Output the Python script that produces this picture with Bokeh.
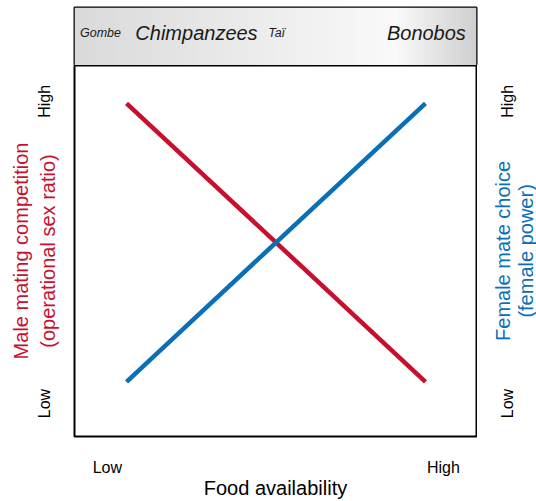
import math
import numpy as np
from bokeh.plotting import figure
from bokeh.layouts import column, row
from bokeh.models import Range1d, FixedTicker, CustomJSTickFormatter, ColumnDataSource
from bokeh.core.properties import value
from bokeh.embed import file_html
from bokeh.resources import INLINE

# ---- data ----
food = [0, 1]                      # Low -> High food availability
male_competition = [1, 0]          # High -> Low
female_choice = [0, 1]             # Low -> High
x_tick_labels = ["Low", "High"]
y_tick_labels = ["Low", "High"]
header_labels = ["Gombe", "Chimpanzees", "Taï", "Bonobos"]
right_title = ["Female mate choice", "(female power)"]

# ---- layout constants ----
RED = "#c8102e"
BLUE = "#0b6fb5"
FONT = "Liberation Sans"
X_TICK_POS = [-0.064, 1.06]
Y_TICK_POS = [-0.078, 1.007]
HEADER_X = [-0.087, 0.234, 0.502, 1.003]
HEADER_SIZES = ["12.5px", "20px", "12.5px", "20px"]
RIGHT_TICK_PX = 507
RIGHT_TITLE_PX = [502, 525]
Y_MID = 0.47

x_range = Range1d(-0.174, 1.1706)
y_range = Range1d(-0.1964, 1.1357)

# ---- header strip ----
header = figure(width=536, height=65, x_range=x_range, y_range=Range1d(0, 1),
                output_backend="svg", toolbar_location=None,
                x_axis_location=None, y_axis_location=None,
                min_border_left=74, min_border_right=60,
                min_border_top=7, min_border_bottom=0)
header.grid.visible = False
header.outline_line_color = "black"
header.outline_line_width = 2

N = 256
t = np.linspace(0, 1, N)
g = np.where(t < 0.8, 218 + (250 - 218) * t / 0.8,
             250 - (250 - 208) * (t - 0.8) / 0.2).astype(np.uint8)
img = np.empty((1, N), dtype=np.uint32)
view = img.view(dtype=np.uint8).reshape((1, N, 4))
view[..., 0] = g
view[..., 1] = g
view[..., 2] = g
view[..., 3] = 255
header.image_rgba(image=[img], x=x_range.start, y=0,
                  dw=x_range.end - x_range.start, dh=1)

hsrc = ColumnDataSource(dict(x=HEADER_X, y=[0.56] * 4, text=header_labels,
                             size=HEADER_SIZES))
header.text(x="x", y="y", text="text", source=hsrc, text_font=value(FONT),
            text_font_size="size", text_font_style="italic",
            text_color="#1a1a1a", text_align="center", text_baseline="middle")

# ---- main plot ----
p = figure(width=477, height=436, x_range=x_range, y_range=y_range,
           output_backend="svg", toolbar_location=None,
           min_border_left=74, min_border_right=1,
           min_border_top=0, min_border_bottom=63)
p.grid.visible = False
p.outline_line_color = "black"
p.outline_line_width = 2

p.line(food, male_competition, line_color=RED, line_width=4.5)
p.line(food, female_choice, line_color=BLUE, line_width=4.5)

xfmt = CustomJSTickFormatter(args=dict(labels=x_tick_labels),
                             code="return tick < 0.5 ? labels[0] : labels[1];")
yfmt = CustomJSTickFormatter(args=dict(labels=y_tick_labels),
                             code="return tick < 0.5 ? labels[0] : labels[1];")

p.xaxis[0].ticker = FixedTicker(ticks=X_TICK_POS)
p.xaxis[0].formatter = xfmt
p.yaxis[0].ticker = FixedTicker(ticks=Y_TICK_POS)
p.yaxis[0].formatter = yfmt

for ax in [p.xaxis[0], p.yaxis[0]]:
    ax.axis_line_color = None
    ax.major_tick_line_color = None
    ax.minor_tick_line_color = None
    ax.major_tick_in = 0
    ax.major_tick_out = 0
    ax.major_label_text_font = FONT
    ax.major_label_text_font_size = "16px"
    ax.major_label_text_color = "black"
    ax.axis_label_text_font = FONT
    ax.axis_label_text_font_size = "20px"
    ax.axis_label_text_font_style = "normal"

p.xaxis[0].axis_label = "Food availability"
p.xaxis[0].axis_label_text_color = "black"
p.xaxis[0].major_label_standoff = 22
p.xaxis[0].axis_label_standoff = -2

p.yaxis[0].axis_label = "Male mating competition\n(operational sex ratio)"
p.yaxis[0].axis_label_text_color = RED
p.yaxis[0].major_label_orientation = "parallel"
p.yaxis[0].major_label_standoff = 21
p.yaxis[0].axis_label_standoff = -25

# ---- right side strip (tick labels + title for the female axis) ----
rside = figure(width=59, height=436, x_range=Range1d(477, 536), y_range=y_range,
               output_backend="svg", toolbar_location=None,
               x_axis_location=None, y_axis_location=None,
               min_border_left=0, min_border_right=0,
               min_border_top=0, min_border_bottom=63)
rside.grid.visible = False
rside.outline_line_color = None

rside.text(x=[RIGHT_TICK_PX] * len(Y_TICK_POS), y=Y_TICK_POS, text=y_tick_labels,
           angle=math.pi / 2, text_font=value(FONT), text_font_size="16px",
           text_color="black", text_align="center", text_baseline="middle")
rside.text(x=RIGHT_TITLE_PX, y=[Y_MID] * 2, text=right_title,
           angle=math.pi / 2, text_font=value(FONT), text_font_size="20px",
           text_color=BLUE, text_align="center", text_baseline="middle")

layout = column(header, row(p, rside, spacing=0), spacing=0)
open("out.html", "w").write(file_html(layout, INLINE))
